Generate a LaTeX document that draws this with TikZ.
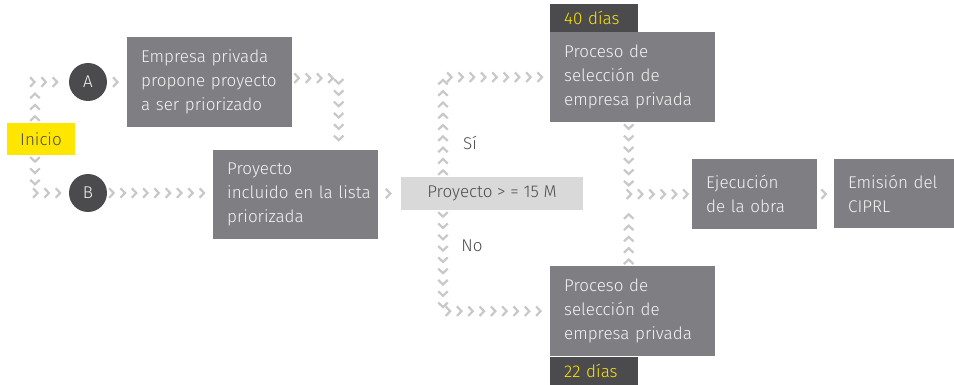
\documentclass[tikz,border=0pt]{standalone}
\usepackage{fontspec}
\setmainfont{Fira Sans Light}
\usetikzlibrary{arrows.meta,positioning,decorations.markings}
\definecolor{eygray}{HTML}{7F7F83}
\definecolor{eydark}{HTML}{4B4B4E}
\definecolor{eylight}{HTML}{D9D9D9}
\definecolor{eychev}{HTML}{C8C8C8}
\definecolor{eyyellow}{HTML}{FFE600}
\definecolor{eytext}{HTML}{4D4D4F}
\definecolor{eywhite}{HTML}{F4F4F4}

\begin{document}
\begin{tikzpicture}[
    x=1pt, y=-1pt,
    font=\fontsize{17}{24}\selectfont,
    chev/.tip={Straight Barb[length=4.5pt, width=9.5pt, line width=2.2pt, color=eychev]},
    chevline/.style={decoration={markings, mark=between positions 8pt and -2pt step 11.3pt with {\arrow{chev}}}, decorate},
    chevone/.style={decoration={markings, mark=at position 0.6 with {\arrow{chev}}}, decorate},
    padl/.style={inner xsep=0pt, inner ysep=0pt, text width=#1,
      execute at begin node={\parindent=0pt\leftskip=14pt\rightskip=0pt plus 1fil\relax}},
    gbox/.style={fill=eygray, text=eywhite, padl=#1, anchor=north west},
    days/.style={fill=eydark, text=eyyellow, padl=88pt, minimum height=28pt},
    stepdot/.style={circle, fill=eydark, text=eywhite, minimum size=38pt, inner sep=0pt},
    lbl/.style={text=eytext}
  ]
    \useasboundingbox (0,0) rectangle (954,385);
    % start and the two ways in
    \node[fill=eyyellow, text=eytext, minimum width=68pt, minimum height=32pt, inner sep=0pt] (start) at (41,139) {Inicio};
    \node[stepdot] (A) at (88,82) {A};
    \node[stepdot] (B) at (88,193) {B};
    \node[gbox=165pt, minimum height=90pt] (empresa) at (127,37) {Empresa privada\\propone proyecto\\a ser priorizado};
    \node[gbox=165pt, minimum height=89pt] (lista) at (213,150) {Proyecto\\incluido en la lista\\priorizada};
    % decision
    \node[fill=eylight, text=eytext, minimum width=182pt, minimum height=33pt, inner sep=0pt] (dec) at (492,193.5) {Proyecto > = 15 M};
    \node[lbl] (si) at (470,143) {Sí};
    \node[lbl] (no) at (472,246) {No};
    % selection processes
    \node[gbox=165pt, minimum height=90pt] (seltop) at (550,32) {Proceso de\\selección de\\empresa privada};
    \node[days, anchor=south west] (d40) at (seltop.north west) {40 días};
    \node[gbox=165pt, minimum height=90pt] (selbot) at (550,266) {Proceso de\\selección de\\empresa privada};
    \node[days, anchor=north west] (d22) at (selbot.south west) {22 días};
    % end
    \node[gbox=125pt, minimum height=70pt] (obra) at (692,159) {Ejecución\\de la obra};
    \node[gbox=120pt, minimum height=69pt] (ciprl) at (834,159) {Emisión del\\CIPRL};
    \coordinate (join) at ([xshift=-4pt]seltop.south |- obra.west);
    % chevron connectors
    \path[chevline] ([xshift=-6pt]start.north) |- (A.west);
    \path[chevline] ([xshift=-6pt]start.south) |- (B.west);
    \path[chevone] (A.east) -- (empresa.west);
    \path[chevline] ([yshift=4pt]empresa.east) -| ([xshift=43pt]lista.north);
    \path[chevline] (B.east) -- (B.east -| lista.west);
    \path[chevone] (lista.east |- dec.west) -- (dec.west);
    \path[chevline] ([xshift=-49pt]dec.north) |- (seltop.west);
    \path[chevline] ([xshift=-49pt]dec.south) |- (selbot.west);
    \path[chevline] ([xshift=-4pt]seltop.south) |- (obra.west);
    \path[chevline] ([xshift=-4pt]selbot.north) -- ([yshift=-9pt]join);
    \path[chevone] (obra.east) -- (ciprl.west);
\end{tikzpicture}
\end{document}
